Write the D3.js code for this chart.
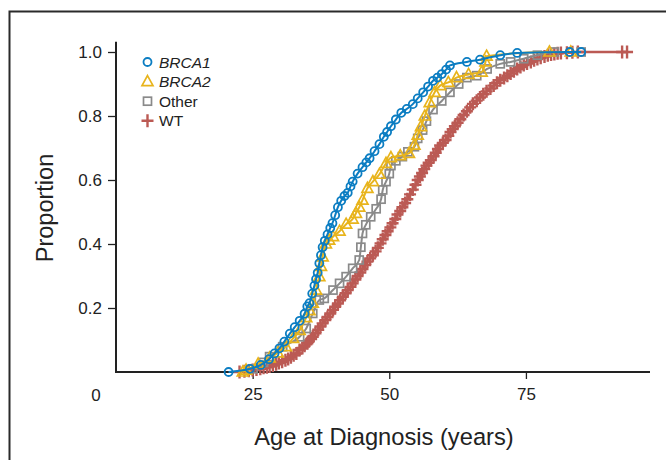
<!DOCTYPE html>
<html><head><meta charset="utf-8">
<script src="https://cdn.jsdelivr.net/npm/d3@7"></script>
<style>
html,body{margin:0;padding:0;background:#fff;}
text{font-family:"Liberation Sans",Arial,sans-serif;fill:#222;}
</style></head>
<body>
<svg id="chart" width="666" height="460"></svg>
<script>
// ---- data ----
const seriesNames = ["BRCA1", "BRCA2", "Other", "WT"];
const xTicks = [25, 50, 75];
const yTicks = [0.2, 0.4, 0.6, 0.8, 1.0];

const brca1Age = [20.6,24.5,26.5,28.0,29.0,29.9,30.8,31.8,32.7,33.6,34.5,35.0,35.4,35.9,36.3,36.6,36.9,37.2,37.5,37.8,38.2,38.7,39.2,39.6,40.1,40.6,41.2,41.8,42.4,42.9,43.3,44.2,45.1,45.8,46.4,47.3,48.2,49.0,49.6,50.3,51.2,52.2,53.2,54.3,55.2,56.2,57.1,58.0,58.8,59.6,60.4,61.1,64.2,66.6,70.3,73.4,83.0,85.1];
const brca1Prop = [0.000,0.010,0.022,0.040,0.058,0.074,0.095,0.120,0.140,0.160,0.182,0.205,0.215,0.245,0.270,0.290,0.310,0.340,0.365,0.390,0.410,0.430,0.450,0.465,0.490,0.515,0.535,0.550,0.560,0.580,0.595,0.620,0.640,0.655,0.668,0.690,0.712,0.735,0.750,0.768,0.789,0.810,0.822,0.837,0.855,0.874,0.892,0.910,0.920,0.931,0.945,0.958,0.969,0.976,0.990,0.997,1.000,1.000];

const brca2Age = [23.2,23.8,26.0,28.1,29.6,31.1,32.4,33.6,34.8,35.4,36.0,36.6,37.2,37.5,37.8,38.4,39.0,39.7,40.9,42.1,43.3,43.9,44.5,45.1,46.0,47.0,48.2,49.4,50.3,52.0,53.6,54.6,55.2,55.8,56.5,57.4,58.3,59.3,60.8,62.3,64.5,66.9,67.6,67.8,79.3,83.2];
const brca2Prop = [0.000,0.006,0.025,0.044,0.060,0.079,0.105,0.130,0.170,0.192,0.215,0.256,0.298,0.330,0.360,0.400,0.412,0.423,0.440,0.462,0.478,0.496,0.515,0.537,0.574,0.595,0.618,0.652,0.670,0.676,0.683,0.709,0.740,0.767,0.800,0.842,0.874,0.895,0.905,0.920,0.930,0.937,0.969,0.987,1.000,1.000];

const otherAge = [25.1,27.0,28.1,30.5,33.6,34.8,36.0,37.2,38.1,39.7,40.9,42.1,43.3,44.5,44.8,45.1,45.7,46.6,47.6,48.5,48.8,49.4,50.0,50.3,51.2,52.4,53.4,54.6,55.2,56.1,56.8,58.0,59.6,61.1,62.7,64.2,66.0,67.9,70.3,72.2,74.6,77.1,80.2,85.1];
const otherProp = [0.010,0.030,0.048,0.079,0.110,0.136,0.183,0.225,0.230,0.256,0.277,0.298,0.324,0.350,0.390,0.433,0.460,0.485,0.510,0.540,0.569,0.595,0.620,0.645,0.660,0.673,0.688,0.704,0.730,0.756,0.784,0.820,0.847,0.874,0.900,0.920,0.926,0.947,0.963,0.969,0.979,0.990,1.000,1.000];

const wtAge = [22.6,23.5,24.3,25.0,25.7,26.4,27.0,27.6,28.1,28.7,29.3,29.8,30.4,31.0,31.5,32.0,32.5,33.0,33.6,34.1,34.5,35.0,35.3,35.7,36.0,36.5,37.0,37.4,37.8,38.3,38.7,39.2,39.7,40.1,40.6,41.0,41.5,42.0,42.4,42.9,43.3,43.8,44.2,44.7,45.1,45.6,46.0,46.5,47.0,47.5,47.9,48.4,48.8,49.3,49.7,50.2,50.6,51.1,51.5,52.0,52.4,52.9,53.3,53.8,54.3,54.8,55.2,55.6,56.0,56.4,56.8,57.2,57.6,58.1,58.5,58.9,59.3,59.8,60.3,60.8,61.2,61.6,62.0,62.5,63.0,63.6,64.2,64.8,65.3,66.0,66.6,67.2,67.8,68.5,69.1,69.7,70.3,71.0,71.6,72.2,72.8,73.4,74.0,74.6,75.2,75.9,76.5,77.1,77.7,78.4,79.0,79.6,80.2,80.8,81.4,82.5,83.5,84.5,92.6,93.5];
const wtProp = [0.000,0.002,0.004,0.006,0.008,0.010,0.013,0.015,0.017,0.020,0.024,0.028,0.032,0.037,0.041,0.046,0.052,0.058,0.069,0.075,0.082,0.090,0.096,0.103,0.110,0.121,0.132,0.142,0.152,0.162,0.172,0.183,0.194,0.204,0.214,0.224,0.235,0.246,0.256,0.266,0.277,0.289,0.300,0.311,0.322,0.334,0.345,0.355,0.365,0.377,0.388,0.402,0.415,0.428,0.440,0.452,0.465,0.478,0.492,0.503,0.515,0.528,0.540,0.555,0.570,0.585,0.600,0.611,0.622,0.634,0.645,0.654,0.662,0.674,0.685,0.697,0.708,0.716,0.725,0.738,0.750,0.759,0.768,0.779,0.790,0.803,0.815,0.827,0.838,0.848,0.858,0.868,0.877,0.886,0.895,0.904,0.912,0.919,0.926,0.933,0.940,0.947,0.953,0.959,0.964,0.969,0.974,0.978,0.982,0.986,0.990,0.992,0.994,0.996,0.997,0.998,0.999,1.000,1.000,1.000];

const colors = {BRCA1:"#0b7dc2", BRCA2:"#e8b41c", Other:"#8a8a8a", WT:"#bb5a54"};

// ---- build ----
const zip = (a, p) => a.map((v, i) => ({age: v, prop: p[i]}));
const data = {
  BRCA1: zip(brca1Age, brca1Prop),
  BRCA2: zip(brca2Age, brca2Prop),
  Other: zip(otherAge, otherProp),
  WT: zip(wtAge, wtProp)
};

const svg = d3.select("#chart");
const x = d3.scaleLinear().domain([0, 97.7]).range([116, 650]);
const y = d3.scaleLinear().domain([0, 1]).range([372, 52]);

// outer frame
svg.append("path").attr("d", "M9.5,470V11.5H680")
  .attr("fill", "none").attr("stroke", "#2a2a2a").attr("stroke-width", 2);

// axes
const yAxis = d3.axisLeft(y).tickValues(yTicks).tickFormat(d3.format(".1f")).tickSize(8).tickPadding(6);
const gy = svg.append("g").attr("transform", `translate(${x(0)},0)`).call(yAxis);
gy.select(".domain").remove();
gy.append("line").attr("x1", 0).attr("x2", 0).attr("y1", y(1.032)).attr("y2", y(0))
  .attr("stroke", "#222").attr("stroke-width", 2);

const xAxis = d3.axisBottom(x).tickValues(xTicks).tickFormat(d3.format("d")).tickSize(7).tickPadding(9);
const gx = svg.append("g").attr("transform", `translate(0,${y(0)})`).call(xAxis);
gx.select(".domain").remove();
gx.append("line").attr("x1", x(0) - 1).attr("x2", 650).attr("y1", 0).attr("y2", 0)
  .attr("stroke", "#222").attr("stroke-width", 2);

[gx, gy].forEach(g => {
  g.selectAll(".tick line").attr("stroke", "#222").attr("stroke-width", 1.3);
  g.selectAll(".tick text").style("font-size", "17px").attr("fill", "#222")
    .style("font-family", "'Liberation Sans', Arial, sans-serif");
});

// origin label
svg.append("text").attr("x", 96).attr("y", 401).attr("text-anchor", "middle")
  .style("font-size", "17px").text("0");

// axis titles
svg.append("text").attr("x", 384).attr("y", 445).attr("text-anchor", "middle")
  .style("font-size", "23.7px").text("Age at Diagnosis (years)");
svg.append("text").attr("transform", "translate(53,208) rotate(-90)").attr("text-anchor", "middle")
  .style("font-size", "23.5px").text("Proportion");

// lines
const line = d3.line().x(d => x(d.age)).y(d => y(d.prop)).curve(d3.curveMonotoneX);
const drawOrder = ["WT", "Other", "BRCA2", "BRCA1"];

function marker(g, name, cx, cy) {
  const c = colors[name];
  if (name === "BRCA1") {
    g.append("circle").attr("cx", cx).attr("cy", cy).attr("r", 4)
      .attr("fill", "none").attr("stroke", c).attr("stroke-width", 1.8);
  } else if (name === "BRCA2") {
    g.append("path").attr("d", `M${cx},${cy - 6}L${cx + 5.5},${cy + 4}L${cx - 5.5},${cy + 4}Z`)
      .attr("fill", "none").attr("stroke", c).attr("stroke-width", 1.7);
  } else if (name === "Other") {
    g.append("rect").attr("x", cx - 4).attr("y", cy - 4).attr("width", 8).attr("height", 8)
      .attr("fill", "none").attr("stroke", c).attr("stroke-width", 1.7);
  } else {
    g.append("path").attr("d", `M${cx - 6},${cy}H${cx + 6}M${cx},${cy - 6.5}V${cy + 6.5}`)
      .attr("fill", "none").attr("stroke", c).attr("stroke-width", 2.4);
  }
}

drawOrder.forEach(name => {
  const g = svg.append("g").attr("class", "series-" + name);
  g.append("path").datum(data[name]).attr("d", line)
    .attr("fill", "none").attr("stroke", colors[name]).attr("stroke-width", name === "WT" ? 2.5 : 2);
  data[name].forEach(d => marker(g, name, x(d.age), y(d.prop)));
});

// legend
const lg = svg.append("g");
seriesNames.forEach((name, i) => {
  const cy = 62 + i * 19.6;
  marker(lg, name, 147.5, cy);
  lg.append("text").attr("x", 159).attr("y", cy).attr("dy", "0.36em")
    .style("font-size", "15.5px")
    .style("font-style", (name === "BRCA1" || name === "BRCA2") ? "italic" : "normal")
    .text(name);
});
</script>
</body></html>
